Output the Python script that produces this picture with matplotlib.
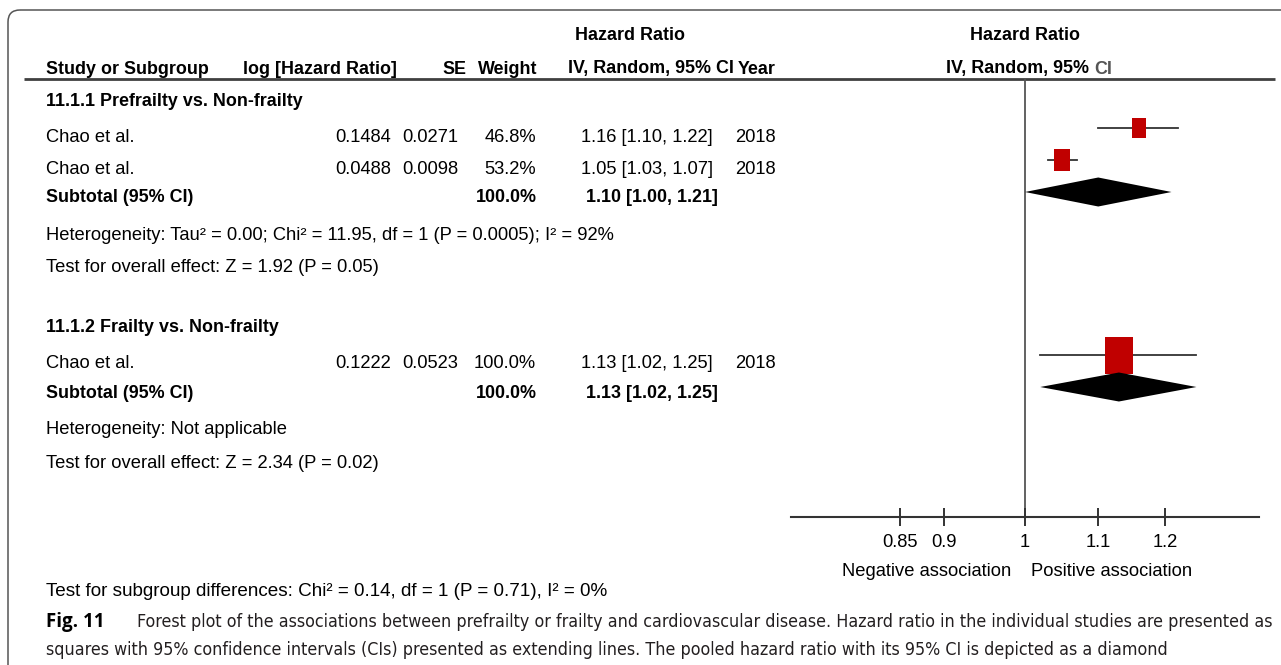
import matplotlib
matplotlib.use('Agg')
import matplotlib.pyplot as plt
from matplotlib.path import Path
from matplotlib.patches import FancyBboxPatch
from matplotlib import font_manager

# Datos de los estudios
estudios = ['Chao et al.', 'Chao et al.', 'Chao et al.']
log_hr = ['0.1484', '0.0488', '0.1222']
se = ['0.0271', '0.0098', '0.0523']
peso = [46.8, 53.2, 100.0]
hr = [1.16, 1.05, 1.13]
hr_inf = [1.10, 1.03, 1.02]
hr_sup = [1.22, 1.07, 1.25]
anio = ['2018', '2018', '2018']

# Datos de los subgrupos
titulos_subgrupo = ['11.1.1 Prefrailty vs. Non-frailty', '11.1.2 Frailty vs. Non-frailty']
total_peso = [100.0, 100.0]
total_hr = [1.10, 1.13]
total_inf = [1.00, 1.02]
total_sup = [1.21, 1.25]
heterogeneidad = ['Heterogeneity: Tau² = 0.00; Chi² = 11.95, df = 1 (P = 0.0005); I² = 92%',
                  'Heterogeneity: Not applicable']
efecto_global = ['Test for overall effect: Z = 1.92 (P = 0.05)',
                 'Test for overall effect: Z = 2.34 (P = 0.02)']
dif_subgrupos = 'Test for subgroup differences: Chi² = 0.14, df = 1 (P = 0.71), I² = 0%'

# Eje
ticks = [0.85, 0.9, 1, 1.1, 1.2]
ticks_etiquetas = ['0.85', '0.9', '1', '1.1', '1.2']
etiqueta_neg = 'Negative association'
etiqueta_pos = 'Positive association'

leyenda_fig = 'Fig. 11'
leyenda_lineas = ['Forest plot of the associations between prefrailty or frailty and cardiovascular disease. '
                  'Hazard ratio in the individual studies are presented as',
                  'squares with 95% confidence intervals (CIs) presented as extending lines. '
                  'The pooled hazard ratio with its 95% CI is depicted as a diamond']

# Posiciones de las filas (pixeles desde arriba)
fila_estudio = [135, 167, 362]
fila_titulo = [100, 326]
fila_subtotal = [196, 391]
fila_het = [234, 428]
fila_test = [266, 461]
DY = 2  # correccion vertical del texto

plt.rcParams['font.family'] = ['Liberation Sans', 'DejaVu Sans']
FS = 13.2
GRIS = '#404040'

ANCHO, ALTO = 1281, 665
fig = plt.figure(figsize=(ANCHO / 100, ALTO / 100), dpi=100)

# Capa para texto en coordenadas de pixel
capa = fig.add_axes([0, 0, 1, 1])
capa.set_xlim(0, ANCHO)
capa.set_ylim(ALTO, 0)
capa.axis('off')


def texto(x, y, s, **kw):
    kw.setdefault('fontsize', FS)
    kw.setdefault('va', 'center')
    return capa.text(x, y + DY, s, **kw)


# Marco redondeado
marco = FancyBboxPatch((8, 10), 1400, 800, boxstyle='round,pad=0,rounding_size=12',
                       fc='none', ec='#555555', lw=1.1)
capa.add_patch(marco)

# Encabezados
FSB = 12.9
texto(630, 34, 'Hazard Ratio', ha='center', weight='bold', fontsize=FSB)
texto(1025, 34, 'Hazard Ratio', ha='center', weight='bold', fontsize=FSB)
texto(46, 67, 'Study or Subgroup', ha='left', weight='bold', fontsize=FSB)
texto(243, 67, 'log [Hazard Ratio]', ha='left', weight='bold', fontsize=FSB)
texto(466, 67, 'SE', ha='right', weight='bold', fontsize=FSB)
texto(537, 67, 'Weight', ha='right', weight='bold', fontsize=FSB)
texto(568, 67, 'IV, Random, 95% CI', ha='left', weight='bold', fontsize=FSB)
texto(738, 67, 'Year', ha='left', weight='bold', fontsize=FSB)
texto(1089, 67, 'IV, Random, 95%', ha='right', weight='bold', fontsize=FSB)
texto(1094, 67, 'CI', ha='left', weight='bold', color='#555555', fontsize=FSB)
capa.plot([24, 1275], [79, 79], color=GRIS, lw=2, solid_capstyle='butt')

# Filas de estudios
for i in range(len(estudios)):
    y = fila_estudio[i]
    texto(46, y, estudios[i], ha='left')
    texto(391, y, log_hr[i], ha='right')
    texto(458, y, se[i], ha='right')
    texto(536, y, f'{peso[i]:.1f}%', ha='right')
    texto(713, y, f'{hr[i]:.2f} [{hr_inf[i]:.2f}, {hr_sup[i]:.2f}]', ha='right')
    texto(735, y, anio[i], ha='left')

# Filas de subgrupos
for j in range(len(titulos_subgrupo)):
    texto(46, fila_titulo[j], titulos_subgrupo[j], ha='left', weight='bold', fontsize=FSB)
    texto(46, fila_subtotal[j], 'Subtotal (95% CI)', ha='left', weight='bold', fontsize=FSB)
    texto(537, fila_subtotal[j], f'{total_peso[j]:.1f}%', ha='right', weight='bold', fontsize=FSB)
    texto(718, fila_subtotal[j], f'{total_hr[j]:.2f} [{total_inf[j]:.2f}, {total_sup[j]:.2f}]',
          ha='right', weight='bold', fontsize=FSB)
    texto(46, fila_het[j], heterogeneidad[j], ha='left')
    texto(46, fila_test[j], efecto_global[j], ha='left')

texto(46, 590, dif_subgrupos, ha='left', fontsize=13.6)

# Grafico de bosque
izq, der, arriba, abajo = 791, 1259, 79, 517
ax = fig.add_axes([izq / ANCHO, 1 - abajo / ALTO, (der - izq) / ANCHO, (abajo - arriba) / ALTO])
ax.patch.set_alpha(0)
ax.set_xscale('log')
ax.set_xlim(1 / 1.356, 1.356)
ax.set_ylim(abajo, arriba)
for lado in ['top', 'left', 'right']:
    ax.spines[lado].set_visible(False)
ax.spines['bottom'].set_color('#333333')
ax.spines['bottom'].set_linewidth(1.5)
ax.set_yticks([])
ax.set_xticks(ticks)
ax.set_xticklabels(ticks_etiquetas)
ax.minorticks_off()
ax.tick_params(axis='x', direction='inout', length=13, width=1.4, color='#333333',
               labelsize=FS, pad=6)
ax.axvline(1, color='#555555', lw=1.3, zorder=1)

# Marcador rectangular
rect = Path([(-0.74, -1), (0.74, -1), (0.74, 1), (-0.74, 1), (-0.74, -1)],
            [Path.MOVETO, Path.LINETO, Path.LINETO, Path.LINETO, Path.CLOSEPOLY])
for i in range(len(estudios)):
    y = fila_estudio[i] - 7
    ax.plot([hr_inf[i], hr_sup[i]], [y, y], color='#333333', lw=1.3, zorder=2)
    alto_px = 37 * (peso[i] / 100) ** 0.8
    ax.plot([hr[i]], [y], marker=rect, markersize=alto_px * 0.72, color='#c00000', mew=0, zorder=3)

for j in range(len(titulos_subgrupo)):
    y = fila_subtotal[j] - 4
    h = 14.5
    ax.fill([total_inf[j], total_hr[j], total_sup[j], total_hr[j]], [y, y - h, y, y + h],
            color='black', lw=0, zorder=4)

ax.text(0.982, 572, etiqueta_neg, ha='right', va='center', fontsize=FS, clip_on=False)
ax.text(1.008, 572, etiqueta_pos, ha='left', va='center', fontsize=FS, clip_on=False)

# Buscar una fuente estrecha para la leyenda
estrecha = None
for f in font_manager.fontManager.ttflist:
    nombre = f.name + ' ' + f.fname
    if ('Narrow' in nombre or 'Condensed' in nombre or f.stretch in ('condensed', 'semi-condensed')) \
            and f.weight in (400, 'normal', 'regular') and f.style == 'normal':
        estrecha = f.fname
        if 'Sans' in nombre:
            break

if estrecha:
    prop_ley = font_manager.FontProperties(fname=estrecha, size=14)
else:
    prop_ley = font_manager.FontProperties(family=['Open Sans', 'DejaVu Sans'], size=14)

# Leyenda de la figura
capa.text(46, 622, leyenda_fig, ha='left', va='center', fontsize=13.5, weight='bold',
          family=['Open Sans', 'DejaVu Sans'])
t1 = capa.text(137, 622, leyenda_lineas[0], ha='left', va='center', fontproperties=prop_ley,
               color='#231f20')
t2 = capa.text(46, 650, leyenda_lineas[1], ha='left', va='center', fontproperties=prop_ley,
               color='#231f20')

# Ajustar el tamano para que la primera linea llegue al borde derecho
fig.canvas.draw()
ren = fig.canvas.get_renderer()
ancho_t1 = t1.get_window_extent(ren).width
nuevo = 14 * (1277 - 137) / ancho_t1
t1.set_fontsize(nuevo)
t2.set_fontsize(nuevo)

fig.savefig('out.png', dpi=100)
